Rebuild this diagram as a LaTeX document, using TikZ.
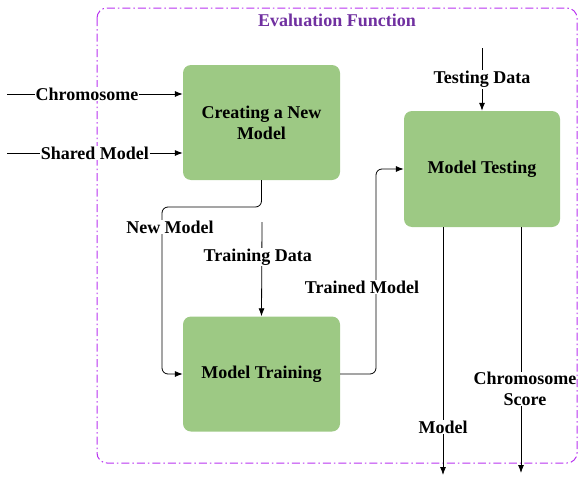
\documentclass[tikz,border=0pt]{standalone}
\usepackage{fontspec}
\setmainfont{Liberation Serif}
\usepackage{xcolor}
\definecolor{BoxGreen}{HTML}{9DC984}
\definecolor{FrameViolet}{HTML}{B833F0}
\definecolor{TitlePurple}{HTML}{7030A0}
\usetikzlibrary{arrows.meta,positioning,calc}

\begin{document}
\begin{tikzpicture}[x=1pt,y=-1pt,font=\fontsize{18}{21}\selectfont\bfseries,
  procbox/.style={fill=BoxGreen,rounded corners=8pt,minimum width=157pt,minimum height=115pt,align=center,inner sep=2pt},
  flow/.style={draw=black,line width=0.8pt,-{Latex[length=8pt,width=6pt]}},
  lbl/.style={fill=white,inner sep=1pt,align=center}]
\useasboundingbox (0,0) rectangle (578,479);
\draw[FrameViolet,line width=1pt,rounded corners=10pt,dash pattern=on 8pt off 3pt on 1.5pt off 3pt]
  (97,8) rectangle (577,463);
\node[text=TitlePurple] (title) at (337,20) {Evaluation Function};

\node[procbox] (create) at (261.5,122.5) {Creating a New\\Model};
\node[procbox] (train) at (261.5,374) {Model Training};
\node[procbox,minimum width=156pt,minimum height=116pt] (test) at (482,169) {Model Testing};

\coordinate (chromIn) at (7,94);
\coordinate (sharedIn) at (7,153);
\coordinate (newBend) at (162,207);
\coordinate (trainIn) at (262,222);
\coordinate (trainedUp) at (376,169);
\coordinate (testIn) at (482,48);
\coordinate (modelOut) at (443,475);
\coordinate (scoreOut) at (521,473);

\draw[flow] (chromIn) -- node[lbl,pos=0.455] (chromLbl) {Chromosome} (chromIn -| create.west);
\draw[flow] (sharedIn) -- node[lbl,pos=0.5] (sharedLbl) {Shared Model} (sharedIn -| create.west);
\draw[flow,rounded corners=6pt] (create.south) |- (newBend) |- (train.west);
\draw[flow] (trainIn) -- node[lbl,pos=0.37,xshift=-4pt] (trainLbl) {Training Data} (train.north);
\draw[flow,rounded corners=6pt] (train.east) -| (trainedUp) -- (test.west);
\draw[flow] (testIn) -- node[lbl,pos=0.5] (testLbl) {Testing Data} (test.north);
\draw[flow] (test.south -| modelOut) -- node[lbl,pos=0.806] (modelLbl) {Model} (modelOut);
\draw[flow] (test.south -| scoreOut) -- (scoreOut);

\node[lbl] (newLbl) at (170,227) {New Model};
\node[lbl] (trainedLbl) at (362,287) {Trained Model};
\node[lbl,inner sep=0pt] (scoreLbl) at (525,389) {Chromosome\\Score};
\end{tikzpicture}
\end{document}
